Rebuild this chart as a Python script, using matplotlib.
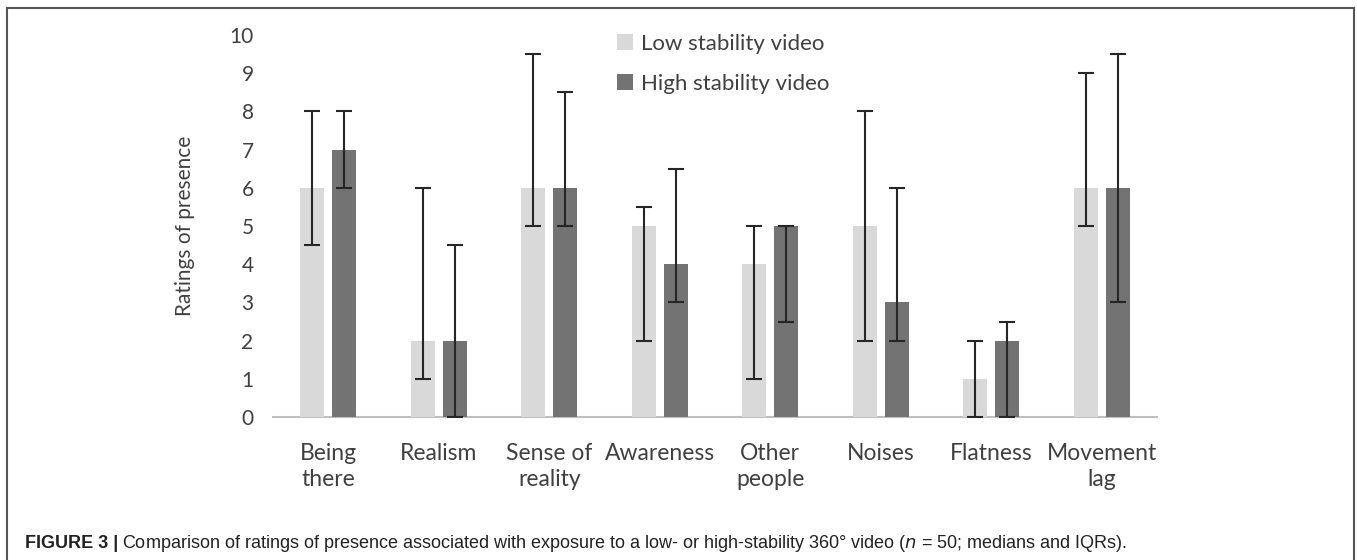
import matplotlib

matplotlib.use("Agg")
import matplotlib.pyplot as plt
import numpy as np
from matplotlib.lines import Line2D
from matplotlib.patches import Patch

CATEGORIES = ["Being\nthere", "Realism", "Sense of\nreality", "Awareness",
              "Other\npeople", "Noises", "Flatness", "Movement\nlag"]
LOW_MEDIAN = [6, 2, 6, 5, 4, 5, 1, 6]
LOW_Q1 = [4.5, 1, 5, 2, 1, 2, 0, 5]
LOW_Q3 = [8, 6, 9.5, 5.5, 5, 8, 2, 9]
HIGH_MEDIAN = [7, 2, 6, 4, 5, 3, 2, 6]
HIGH_Q1 = [6, 0, 5, 3, 2.5, 2, 0, 3]
HIGH_Q3 = [8, 4.5, 8.5, 6.5, 5, 6, 2.5, 9.5]

LOW_COLOR = "#d9d9d9"
HIGH_COLOR = "#737373"
TEXT_COLOR = "#404040"
FONT = ["Lato", "DejaVu Sans"]

plt.rcParams["font.family"] = FONT

fig = plt.figure(figsize=(13.57, 5.6), dpi=100)
ax = fig.add_axes([273 / 1357, 1 - 417 / 560, 884 / 1357, 382 / 560])

x = np.arange(len(CATEGORIES))
width = 0.217
offset = 0.145

low = np.array(LOW_MEDIAN, dtype=float)
high = np.array(HIGH_MEDIAN, dtype=float)
low_err = [low - np.array(LOW_Q1), np.array(LOW_Q3) - low]
high_err = [high - np.array(HIGH_Q1), np.array(HIGH_Q3) - high]

ax.bar(x - offset, low, width, color=LOW_COLOR, zorder=2)
ax.bar(x + offset, high, width, color=HIGH_COLOR, zorder=2)
err_style = dict(fmt="none", ecolor="#262626", elinewidth=1.5, capsize=5.5, capthick=1.5, zorder=3)
ax.errorbar(x - offset, low, yerr=low_err, **err_style)
ax.errorbar(x + offset, high, yerr=high_err, **err_style)

ax.set_xlim(-0.5, len(CATEGORIES) - 0.5)
ax.set_ylim(0, 10)
ax.set_yticks(range(0, 11))
ax.set_xticks(x)
ax.set_xticklabels(CATEGORIES, fontsize=16.5, color=TEXT_COLOR, linespacing=1.3)
ax.tick_params(axis="y", length=0, pad=14, labelsize=15, labelcolor=TEXT_COLOR)
ax.tick_params(axis="x", length=0, pad=19)
for side in ("top", "right", "left"):
    ax.spines[side].set_visible(False)
ax.spines["bottom"].set_color("#bfbfbf")
ax.spines["bottom"].set_linewidth(1.5)
ax.spines["bottom"].set_zorder(1)

fig.text(185 / 1357, 1 - 226 / 560, "Ratings of presence", rotation=90,
         ha="center", va="center", fontsize=15, color=TEXT_COLOR)

handles = [Patch(facecolor=LOW_COLOR, label="Low stability video"),
           Patch(facecolor=HIGH_COLOR, label="High stability video")]
fig.legend(handles=handles, loc="upper left", bbox_to_anchor=(597 / 1357, 1 - 14 / 560),
           frameon=False, fontsize=16, handlelength=0.7, handleheight=0.7,
           handletextpad=0.4, labelspacing=0.9, labelcolor=TEXT_COLOR)

# frame around the figure (open at the bottom)
frame = dict(color="#555555", linewidth=1.5, transform=fig.transFigure)
fig.add_artist(Line2D([7 / 1357, 7 / 1357], [0, 1 - 8 / 560], **frame))
fig.add_artist(Line2D([7 / 1357, 1354 / 1357], [1 - 8 / 560, 1 - 8 / 560], **frame))
fig.add_artist(Line2D([1354 / 1357, 1354 / 1357], [0, 1 - 8 / 560], **frame))

cap_y = 1 - 544 / 560
bold = fig.text(25 / 1357, cap_y, "FIGURE 3 |", fontsize=13, fontweight="bold",
                family="Liberation Sans", color="#222222", va="center")
fig.canvas.draw()
bbox = bold.get_window_extent()
fig.text(bbox.x1 / 1357 + 4 / 1357, cap_y,
         "Comparison of ratings of presence associated with exposure to a low- or "
         "high-stability 360\u00b0 video ($\\it{n}$ = 50; medians and IQRs).",
         fontsize=13, family="Liberation Sans", color="#222222", va="center")

fig.savefig("out.png", dpi=100)
